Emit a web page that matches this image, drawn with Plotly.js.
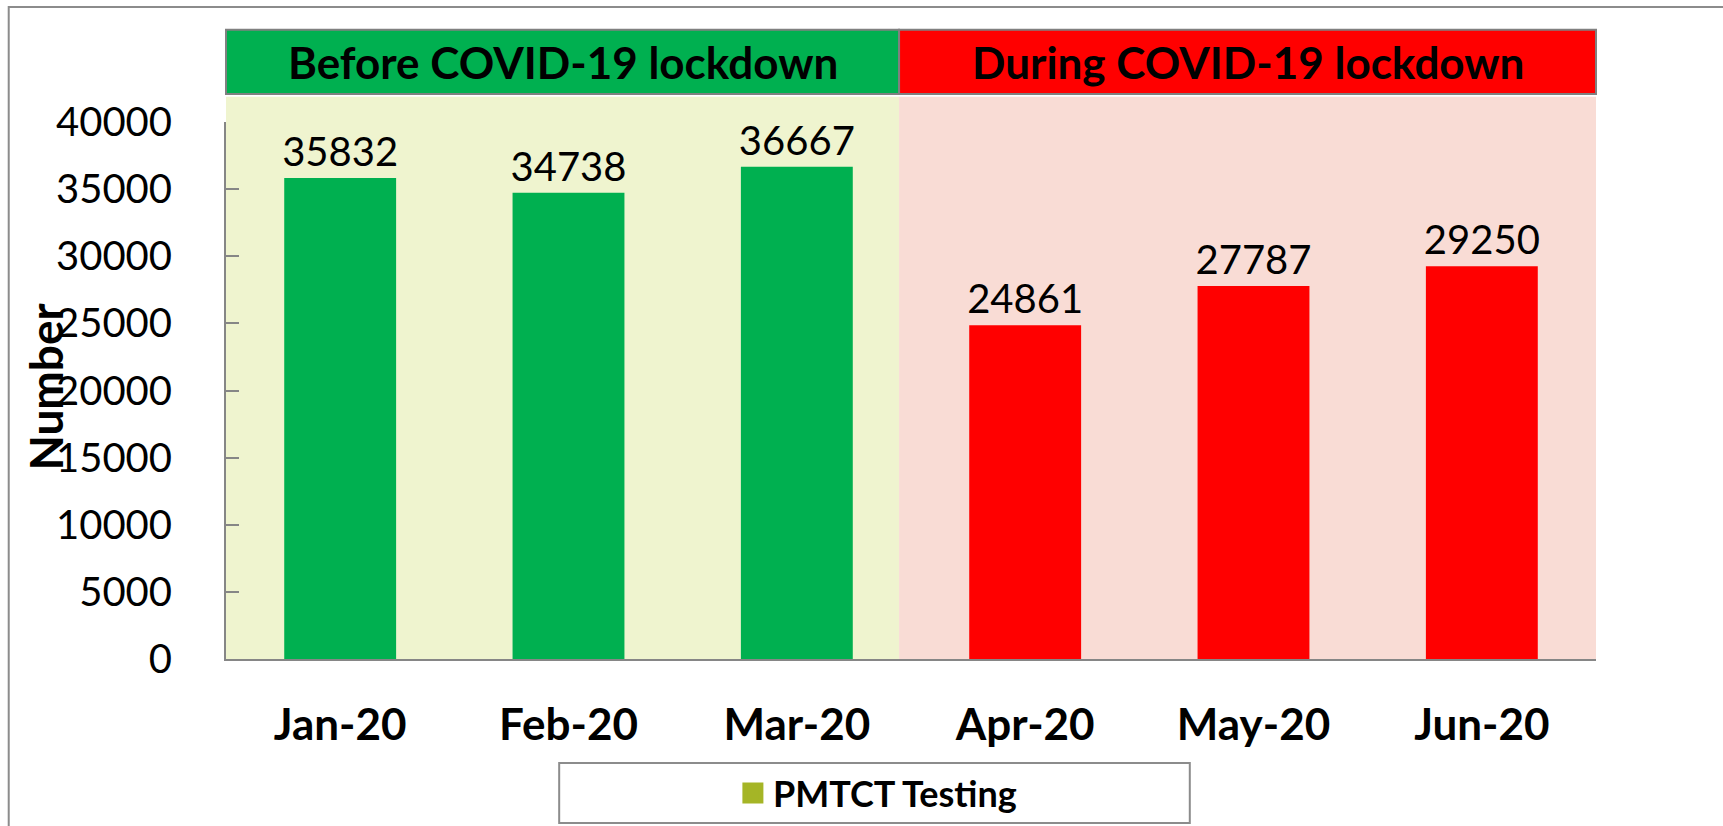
<!DOCTYPE html>
<html><head><meta charset="utf-8">
<script src="https://cdn.plot.ly/plotly-3.0.1.min.js"></script>
<style>html,body{margin:0;padding:0;background:#fff;} #chart{width:1723px;height:826px;}</style>
</head><body><div id="chart"></div>
<script>
// ---- data ----
const months = ['Jan-20', 'Feb-20', 'Mar-20', 'Apr-20', 'May-20', 'Jun-20'];
const pmtctTesting = [35832, 34738, 36667, 24861, 27787, 29250];
const period = ['before', 'before', 'before', 'during', 'during', 'during'];
const periodLabels = {before: 'Before COVID-19 lockdown', during: 'During COVID-19 lockdown'};
const seriesName = 'PMTCT Testing';
const yTitle = 'Number';
const yTickVals = [0, 5000, 10000, 15000, 20000, 25000, 30000, 35000, 40000];

// ---- styles ----
const barColor = {before: '#00B050', during: '#FF0000'};
const bgColor = {before: '#EFF4CF', during: '#F9DCD5'};
const legendColor = '#A5B526';
const axisGray = '#868686';
const FONT = 'Lato, "Open Sans", sans-serif';

const split = 0.4913; // paper x where the two periods meet

const traces = [
  {
    type: 'bar', x: months, y: pmtctTesting,
    marker: {color: period.map(p => barColor[p])},
    text: pmtctTesting.map(String), textposition: 'outside',
    constraintext: 'none', cliponaxis: false,
    outsidetextfont: {family: FONT, size: 40, color: '#000'},
    showlegend: false, hoverinfo: 'x+y'
  },
  {
    type: 'scatter', mode: 'markers', x: [null], y: [null], name: seriesName,
    marker: {symbol: 'square', size: 16, color: legendColor, line: {color: legendColor, width: 5}},
    showlegend: true, hoverinfo: 'skip'
  }
];

const shapes = [
  // outer frame
  {type: 'rect', xref: 'paper', yref: 'paper', x0: -0.1586, x1: 1.1, y0: -0.35, y1: 1.2142,
   line: {color: '#8c8c8c', width: 2}, fillcolor: 'rgba(0,0,0,0)', layer: 'below'},
  // backgrounds
  {type: 'rect', xref: 'paper', yref: 'paper', x0: 0, x1: split, y0: 0, y1: 1.047,
   line: {width: 0}, fillcolor: bgColor.before, layer: 'below'},
  {type: 'rect', xref: 'paper', yref: 'paper', x0: split, x1: 1, y0: 0, y1: 1.047,
   line: {width: 0}, fillcolor: bgColor.during, layer: 'below'},
  // banners
  {type: 'rect', xref: 'paper', yref: 'paper', x0: 0, x1: split, y0: 1.052, y1: 1.172,
   line: {color: '#808080', width: 2}, fillcolor: barColor.before, layer: 'above'},
  {type: 'rect', xref: 'paper', yref: 'paper', x0: split, x1: 1, y0: 1.052, y1: 1.172,
   line: {color: '#808080', width: 2}, fillcolor: barColor.during, layer: 'above'},
  // legend box
  {type: 'rect', xref: 'paper', yref: 'paper', x0: 0.2432, x1: 0.7035, y0: -0.3054, y1: -0.1937,
   line: {color: '#8c8c8c', width: 2}, fillcolor: 'rgba(0,0,0,0)', layer: 'above'}
];

const annotations = [
  {xref: 'paper', yref: 'paper', x: split / 2, y: 1.112, text: periodLabels.before, showarrow: false,
   font: {family: FONT, size: 44, color: '#000', weight: 'bold'}, xanchor: 'center', yanchor: 'middle'},
  {xref: 'paper', yref: 'paper', x: (split + 1) / 2, y: 1.112, text: periodLabels.during, showarrow: false,
   font: {family: FONT, size: 44, color: '#000', weight: 'bold'}, xanchor: 'center', yanchor: 'middle'},
  // y-axis title (overlaps the tick labels as in the original)
  {xref: 'paper', yref: 'paper', x: -0.1324, y: 0.5065, text: yTitle, showarrow: false, textangle: -90,
   font: {family: FONT, size: 46, color: '#000', weight: 'bold'}, xanchor: 'center', yanchor: 'middle'}
];

const layout = {
  width: 1723, height: 826,
  margin: {l: 226, r: 127, t: 122, b: 167, autoexpand: false},
  paper_bgcolor: '#fff', plot_bgcolor: 'rgba(0,0,0,0)',
  bargap: 0.51,
  font: {family: FONT, color: '#000'},
  xaxis: {
    type: 'category', range: [-0.5, 5.5], showgrid: false, zeroline: false,
    showline: true, linecolor: axisGray, linewidth: 2, ticks: '',
    tickfont: {family: FONT, size: 44, color: '#000', weight: 'bold'},
    ticklabelstandoff: 26, fixedrange: true
  },
  yaxis: {
    range: [0, 40000], tickvals: yTickVals, ticktext: yTickVals.map(String),
    showgrid: false, zeroline: false, showline: true, linecolor: axisGray, linewidth: 2,
    ticks: 'inside', ticklen: 13, tickcolor: axisGray, tickwidth: 2,
    tickfont: {family: FONT, size: 40, color: '#000'}, ticklabelstandoff: 44,
    fixedrange: true
  },
  showlegend: true,
  legend: {
    x: 0.370, xanchor: 'left', y: -0.2495, yanchor: 'middle', orientation: 'h',
    bgcolor: 'rgba(0,0,0,0)', borderwidth: 0,
    font: {family: FONT, size: 36, color: '#000', weight: 'bold'}
  },
  shapes: shapes,
  annotations: annotations
};

Plotly.newPlot('chart', traces, layout, {displayModeBar: false, staticPlot: true});
</script></body></html>
